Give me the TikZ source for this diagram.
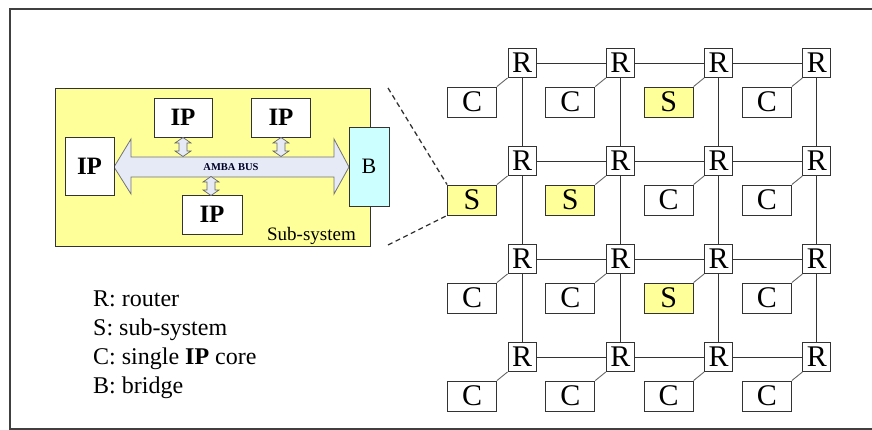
\documentclass[tikz,border=0pt]{standalone}
\usepackage{fontspec}
\setmainfont{LiberationSerif-Regular.ttf}[BoldFont=LiberationSerif-Bold.ttf, ItalicFont=LiberationSerif-Italic.ttf]
\definecolor{ssyellow}{HTML}{FFFF99}
\definecolor{bcyan}{HTML}{CCFFFF}
\definecolor{busfill}{HTML}{E6EAF6}
\definecolor{linegray}{HTML}{333333}
\begin{document}
\begin{tikzpicture}[x=1pt,y=-1pt,
  box/.style={draw=linegray, line width=0.9pt, inner sep=0pt},
  rt/.style={box, fill=white, minimum width=28pt, minimum height=29pt, font=\fontsize{30}{30}\selectfont},
  core/.style={box, minimum width=49pt, minimum height=30pt, font=\fontsize{30}{30}\selectfont},
  ip/.style={box, fill=white, font=\fontsize{25}{25}\selectfont\bfseries},
  link/.style={draw=linegray, line width=0.9pt},
  legend/.style={anchor=base west, inner sep=0pt, font=\fontsize{24}{24}\selectfont},
  vdbl/.pic={\draw[fill=busfill, draw=black!60, line width=0.7pt]
     (0,-9.5) -- (8,-4) -- (4,-4) -- (4,4) -- (8,4) -- (0,9.5) -- (-8,4) -- (-4,4) -- (-4,-4) -- (-8,-4) -- cycle;}
]
\useasboundingbox (0,0) rectangle (872,430);
% outer frame
\draw[line width=1.6pt, black!75] (872,9) -- (10,9) -- (10,429) -- (872,429);

% ---- sub-system ----
\node[box, fill=ssyellow, minimum width=315pt, minimum height=158pt] (sub) at (212.5,167) {};
\node[anchor=base east, inner sep=0pt, font=\fontsize{19}{19}\selectfont] (subl) at (356,241) {Sub-system};
\draw[fill=busfill, draw=black!55, line width=0.8pt]
  (114,167) -- (131,139) -- (131,157) -- (334,157) -- (334,139) -- (349,167)
  -- (334,194) -- (334,177) -- (131,177) -- (131,194) -- cycle;
\node[inner sep=0pt, font=\fontsize{10.5}{10.5}\selectfont\bfseries, text=black!85!blue] (bus) at (231,167) {AMBA BUS};
\node[ip, minimum width=58pt, minimum height=39pt] (ip1) at (183,117.5) {IP};
\node[ip, minimum width=59pt, minimum height=39pt] (ip2) at (281,117.5) {IP};
\node[ip, minimum width=49pt, minimum height=58pt] (ipL) at (89.5,166) {IP};
\node[ip, minimum width=60pt, minimum height=39pt] (ip3) at (212,214.5) {IP};
\node[box, fill=bcyan, minimum width=40pt, minimum height=79pt, font=\fontsize{22}{22}\selectfont] (B) at (369,166.5) {B};
\pic at (183,147) {vdbl};
\pic at (281,147) {vdbl};
\pic at (211,186) {vdbl};

% ---- legend ----
\node[legend] (l1) at (93,306) {R: router};
\node[legend] (l2) at (93,335) {S: sub-system};
\node[legend] (l3) at (93,364) {C: single \textbf{IP} core};
\node[legend] (l4) at (93,393) {B: bridge};

% ---- mesh ----
\foreach \i in {0,...,3}
  \foreach \j in {0,...,3}
    \node[rt] (r\i\j) at ({522+98.3*\j},{63+98*\i}) {R};
\foreach \i in {0,...,3}
  \foreach \j in {0,1,2} {
    \pgfmathtruncatemacro{\k}{\j+1}
    \draw[link] (r\i\j) -- (r\i\k);
    \draw[link] (r\j\i) -- (r\k\i);
  }
\foreach \i/\j/\f/\l in {0/0/white/C,0/1/white/C,0/2/ssyellow/S,0/3/white/C,
                         1/0/ssyellow/S,1/1/ssyellow/S,1/2/white/C,1/3/white/C,
                         2/0/white/C,2/1/white/C,2/2/ssyellow/S,2/3/white/C,
                         3/0/white/C,3/1/white/C,3/2/white/C,3/3/white/C} {
  \node[core, fill=\f] (a\i\j) at ({472+98.3*\j},{102+98*\i}) {\l};
  \draw[link, draw=black!60] (a\i\j.north east) -- (r\i\j.south west);
}

% ---- zoom lines ----
\coordinate (d1) at (388,88);
\coordinate (d2) at (388,245);
\draw[line width=1.3pt, black!80, dash pattern=on 5pt off 3.5pt] (d1) -- (a10.north west);
\draw[line width=1.3pt, black!80, dash pattern=on 5pt off 3.5pt] (d2) -- (a10.south west);
\end{tikzpicture}
\end{document}
